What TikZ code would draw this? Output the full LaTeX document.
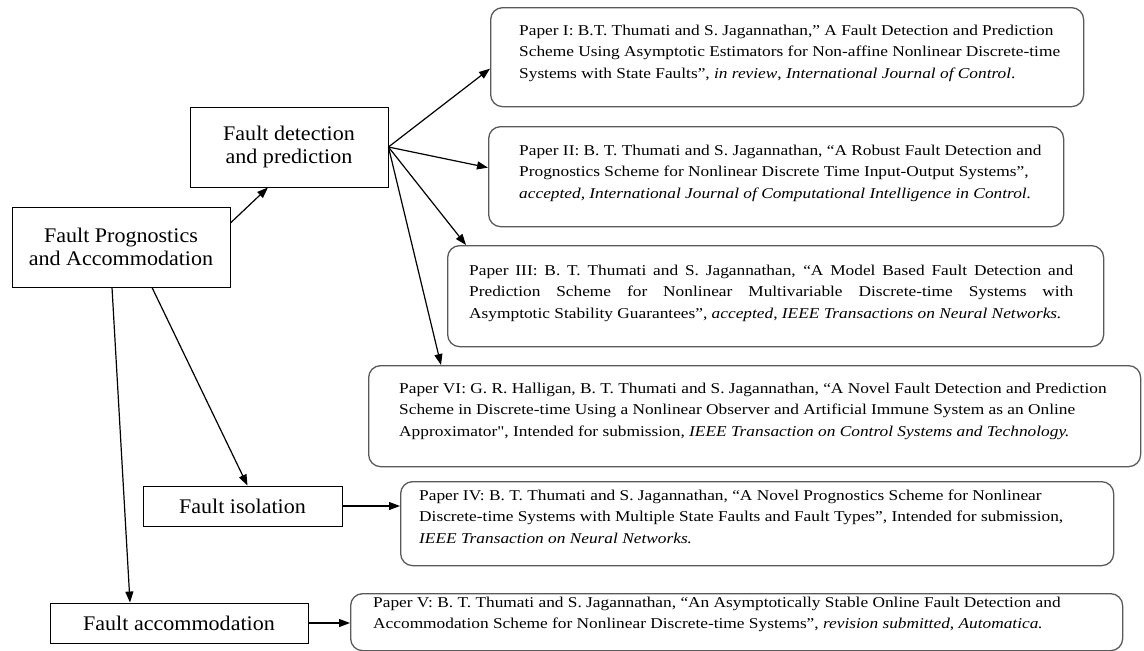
\documentclass[tikz,border=0pt]{standalone}
\usepackage{fontspec}
\setmainfont{Liberation Serif}
\newfontfamily\pubfont[FakeStretch=1.155]{Liberation Serif}
\newfontfamily\topicfont[FakeStretch=1.06]{Liberation Serif}
\usetikzlibrary{arrows.meta}

\tikzset{
  x=1pt, y=-1pt,
  topic/.style={draw=black, line width=0.9pt, inner sep=0pt, align=center,
    font=\topicfont\fontsize{20.8}{23.5}\selectfont},
  paper/.style={draw=black!65, line width=1.3pt, rounded corners=12pt,
    inner sep=0pt, anchor=north west},
  ptext/.style={inner sep=0pt, anchor=base west},
  link/.style={-{Triangle[length=11pt,width=8pt]}, line width=1.2pt},
}
\newcommand{\ptxt}[1]{\parbox[t]{800pt}{\pubfont\fontsize{15}{21.5}\selectfont\raggedright #1}}

\begin{document}
\begin{tikzpicture}
\useasboundingbox (0,0) rectangle (1144,651);

% topic boxes
\node[topic, minimum width=218pt, minimum height=80pt] (fpa) at (121,247) {Fault Prognostics\\and Accommodation};
\node[topic, minimum width=198pt, minimum height=80pt] (fd) at (289,147) {Fault detection\\and prediction};
\node[topic, minimum width=199pt, minimum height=40pt] (fi) at (242.5,506) {Fault isolation};
\node[topic, minimum width=258pt, minimum height=40pt] (fa) at (179,623) {Fault accommodation};

% publication boxes
\node[paper, minimum width=593pt, minimum height=99pt] (p1) at (490,7) {};
\node[paper, minimum width=575pt, minimum height=100pt] (p2) at (488,126) {};
\node[paper, minimum width=656pt, minimum height=101pt] (p3) at (447,245) {};
\node[paper, minimum width=772pt, minimum height=101pt] (p6) at (368,365) {};
\node[paper, minimum width=713pt, minimum height=84pt] (p4) at (400,481) {};
\node[paper, minimum width=772pt, minimum height=57pt] (p5) at (350,593) {};

% publication texts
\node[ptext] (t1) at (519,35) {\ptxt{Paper I: B.T. Thumati and S. Jagannathan,” A Fault Detection and Prediction\\
Scheme Using Asymptotic Estimators for Non-affine Nonlinear Discrete-time\\
Systems with State Faults”, \textit{in review}, \textit{International Journal of Control}.}};
\node[ptext] (t2) at (519,155) {\ptxt{Paper II: B. T. Thumati and S. Jagannathan, “A Robust Fault Detection and\\
Prognostics Scheme for Nonlinear Discrete Time Input-Output Systems”,\\
\textit{accepted, International Journal of Computational Intelligence in Control.}}};
\node[ptext] (t3) at (469,275) {\ptxt{\makebox[604pt][s]{Paper III: B. T. Thumati and S. Jagannathan, “A Model Based Fault Detection and}\\
\makebox[604pt][s]{Prediction Scheme for Nonlinear Multivariable Discrete-time Systems with}\\
Asymptotic Stability Guarantees”, \textit{accepted}, \textit{IEEE Transactions on Neural Networks.}}};
\node[ptext] (t6) at (399,393) {\ptxt{Paper VI: G. R. Halligan, B. T. Thumati and S. Jagannathan, “A Novel Fault Detection and Prediction\\
Scheme in Discrete-time Using a Nonlinear Observer and Artificial Immune System as an Online\\
Approximator", Intended for submission, \textit{IEEE Transaction on Control Systems and Technology.}}};
\node[ptext] (t4) at (419,500) {\ptxt{Paper IV: B. T. Thumati and S. Jagannathan, “A Novel Prognostics Scheme for Nonlinear\\
Discrete-time Systems with Multiple State Faults and Fault Types”, Intended for submission,\\
\textit{IEEE Transaction on Neural Networks.}}};
\node[ptext] (t5) at (373,607) {\ptxt{Paper V: B. T. Thumati and S. Jagannathan, “An Asymptotically Stable Online Fault Detection and\\
Accommodation Scheme for Nonlinear Discrete-time Systems”, \textit{revision submitted}, \textit{Automatica.}}};

% connectors
\draw[link] ([yshift=24pt]fpa.east) -- ([xshift=-21pt]fd.south);
\draw[link] ([xshift=31pt]fpa.south) -- ([xshift=5pt]fi.north);
\draw[link] ([xshift=-9pt]fpa.south) -- ([xshift=-49pt]fa.north);
\draw[link] (fd.east) -- ([yshift=-11.5pt]p1.west);
\draw[link] (fd.east) -- ([yshift=9pt]p2.west);
\draw[link] (fd.east) -- ([xshift=19pt]p3.north west);
\draw[link] (fd.east) -- ([xshift=73pt]p6.north west);
\draw[link] (fi.east) -- (fi.east -| p4.west);
\draw[link] (fa.east) -- (fa.east -| p5.west);
\end{tikzpicture}
\end{document}
